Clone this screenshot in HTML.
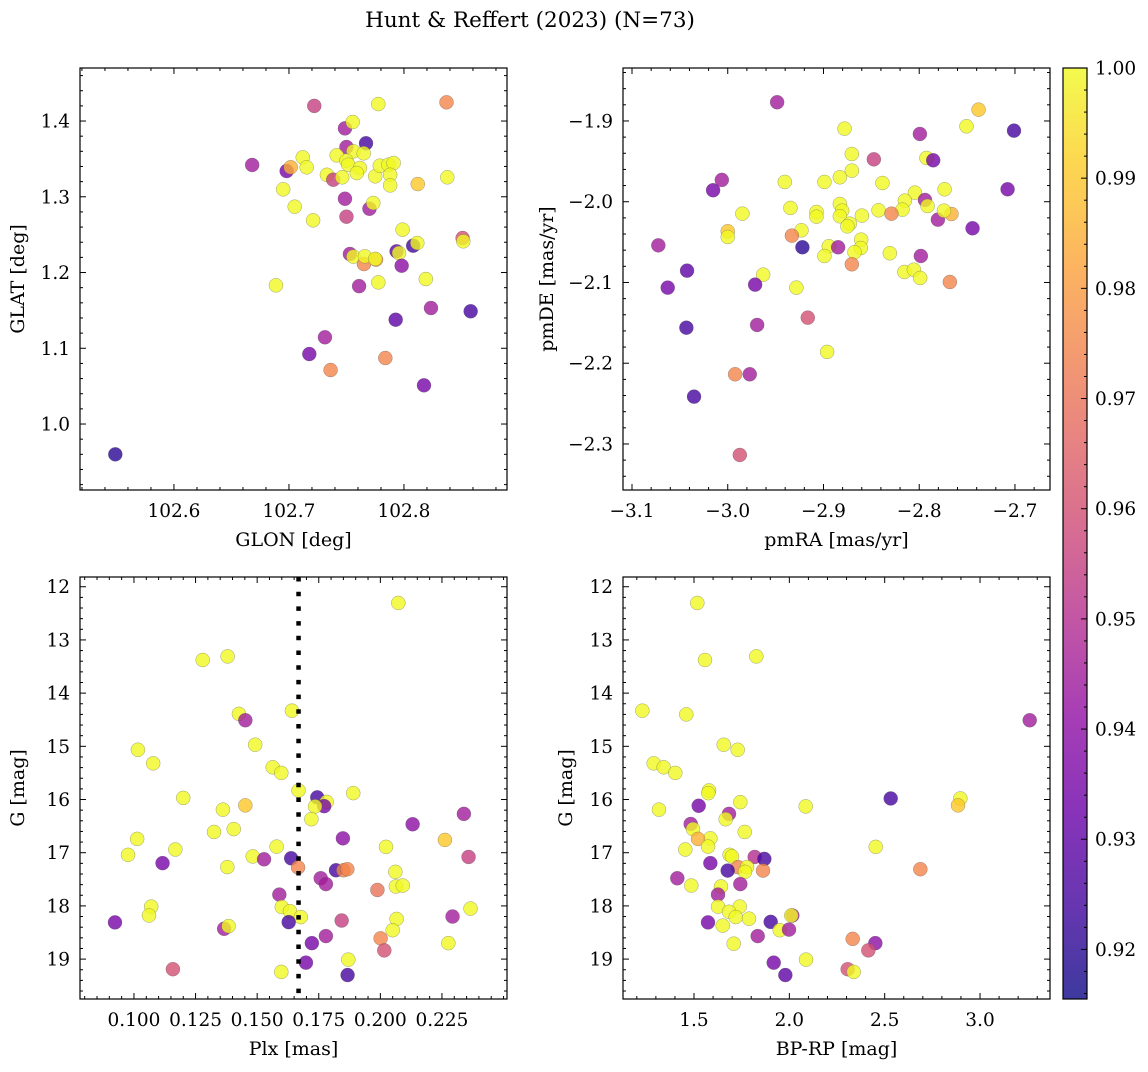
<!DOCTYPE html>
<html><head><meta charset="utf-8"><style>
body{margin:0;background:#fff}
svg text{font-family:"DejaVu Serif","Liberation Serif",serif;fill:#000}
</style></head><body>
<svg id="fig" width="1148" height="1067" xmlns="http://www.w3.org/2000/svg">
<defs><linearGradient id="cbgrad" x1="0" y1="1" x2="0" y2="0">
<stop offset="0" stop-color="#0d0887"/><stop offset="0.1" stop-color="#41049d"/><stop offset="0.2" stop-color="#6a00a8"/><stop offset="0.3" stop-color="#8f0da4"/><stop offset="0.4" stop-color="#b12a90"/><stop offset="0.5" stop-color="#cc4778"/><stop offset="0.6" stop-color="#e16462"/><stop offset="0.7" stop-color="#f2844b"/><stop offset="0.8" stop-color="#fca636"/><stop offset="0.9" stop-color="#fcce25"/><stop offset="1" stop-color="#f0f921"/>
</linearGradient></defs>
<text x="530" y="27" font-size="21.5" text-anchor="middle">Hunt &amp; Reffert (2023) (N=73)</text>
</svg>
<script>
// ---- Panel 1: GLON / GLAT ----
const p1x=[102.549,102.668,102.698,102.7015,102.722,102.7777,102.837,102.7487,102.7554,102.767,102.750,102.7415,102.756,102.765,102.750,102.7516,102.7617,102.759,102.712,102.7154,102.733,102.7385,102.7463,102.775,102.779,102.7864,102.791,102.788,102.788,102.812,102.8377,102.695,102.705,102.721,102.7487,102.770,102.7733,102.750,102.7988,102.851,102.8516,102.808,102.8116,102.7936,102.7957,102.753,102.756,102.7652,102.766,102.7757,102.775,102.798,102.7777,102.761,102.819,102.6887,102.8235,102.858,102.7928,102.7313,102.7177,102.7838,102.7362,102.8174];
const p1y=[0.960,1.342,1.334,1.339,1.420,1.4224,1.4247,1.3903,1.3987,1.3706,1.3657,1.3547,1.360,1.3574,1.3476,1.3423,1.338,1.3314,1.352,1.3389,1.329,1.3225,1.3257,1.327,1.341,1.3423,1.3446,1.329,1.315,1.3168,1.3257,1.3098,1.2869,1.2689,1.2974,1.2842,1.2918,1.2737,1.2566,1.2455,1.2412,1.2354,1.239,1.228,1.2257,1.2244,1.221,1.2112,1.2214,1.217,1.218,1.209,1.187,1.182,1.1914,1.1831,1.1531,1.1488,1.1377,1.1145,1.0924,1.0871,1.0713,1.0511];
const p1c=[0.92,0.945,0.935,0.985,0.955,1,0.975,0.945,1,0.925,0.945,1,1,1,1,1,1,1,1,1,1,0.955,1,1,1,1,1,1,1,0.99,1,1,1,1,0.945,0.945,1,0.955,1,0.96,1,0.925,1,0.93,1,0.945,1,0.975,1,0.98,1,0.94,1,0.945,1,1,0.945,0.925,0.93,0.945,0.935,0.975,0.975,0.935];
// ---- Panel 2: pmRA / pmDE ----
const p2x=[-2.9484,-2.738,-2.7506,-2.701,-2.7993,-2.878,-2.8704,-2.8474,-2.7924,-2.7854,-3.0062,-3.0153,-2.9404,-2.899,-2.8829,-2.8704,-2.8384,-2.7077,-2.7735,-2.8045,-2.815,-2.794,-2.7913,-2.9847,-2.9345,-2.9073,-2.9073,-2.8829,-2.8805,-2.8829,-2.8599,-2.8425,-2.8175,-2.829,-2.7805,-2.7663,-2.7742,-2.7443,-2.8725,-2.875,-3.0,-3.0,-2.923,-2.933,-2.922,-2.8944,-2.8847,-2.899,-2.8606,-2.861,-2.8676,-2.8704,-2.8307,-2.7983,-2.8154,-2.8056,-2.799,-2.768,-3.0725,-3.0425,-3.0627,-2.963,-2.9714,-2.9283,-2.9164,-3.0432,-2.9693,-2.8962,-2.9923,-2.977,-3.0352,-2.9874];
const p2y=[-1.8768,-1.886,-1.9066,-1.912,-1.9161,-1.9095,-1.9409,-1.9475,-1.9458,-1.9487,-1.973,-1.9858,-1.9755,-1.9755,-1.9697,-1.9615,-1.9768,-1.9846,-1.9846,-1.9888,-1.9987,-1.9978,-2.0053,-2.0148,-2.0077,-2.0127,-2.0185,-2.0028,-2.0111,-2.018,-2.0172,-2.0106,-2.0098,-2.0148,-2.0222,-2.0152,-2.0111,-2.0329,-2.0272,-2.0305,-2.0366,-2.0437,-2.0354,-2.042,-2.0564,-2.0552,-2.0564,-2.0672,-2.047,-2.0573,-2.0626,-2.0775,-2.0638,-2.0672,-2.087,-2.0842,-2.0944,-2.0994,-2.054,-2.0854,-2.1064,-2.0903,-2.1027,-2.1064,-2.1436,-2.156,-2.1526,-2.186,-2.2137,-2.2137,-2.2414,-2.3136];
const p2c=[0.945,0.99,1,0.925,0.945,1,1,0.955,1,0.935,0.945,0.935,1,1,1,1,1,0.935,1,1,1,0.945,1,1,1,1,1,1,1,1,1,1,1,0.975,0.945,0.985,1,0.935,1,1,0.99,1,1,0.975,0.92,1,0.945,1,1,1,1,0.975,1,0.945,1,1,1,0.975,0.945,0.93,0.935,1,0.935,1,0.96,0.925,0.945,1,0.975,0.945,0.925,0.96];
// ---- Panel 3: Plx / G ----
const p3x=[0.2073,0.1279,0.138,0.1641,0.1426,0.1452,0.1492,0.1016,0.1078,0.1563,0.1598,0.1668,0.189,0.1744,0.1782,0.1772,0.1735,0.172,0.12,0.1361,0.1452,0.1325,0.1405,0.2131,0.2339,0.1848,0.1013,0.1168,0.0976,0.1579,0.2023,0.2262,0.2358,0.1116,0.1379,0.1482,0.1528,0.1638,0.1666,0.182,0.185,0.1866,0.1758,0.1779,0.2061,0.2063,0.2091,0.1988,0.159,0.107,0.1061,0.0923,0.16,0.1633,0.1677,0.1628,0.1366,0.1384,0.1843,0.2066,0.205,0.2293,0.2366,0.1722,0.1779,0.2001,0.2016,0.2276,0.1698,0.187,0.1598,0.1867,0.1158];
const p3y=[12.305,13.377,13.31,14.33,14.39,14.51,14.97,15.065,15.32,15.394,15.50,15.83,15.88,15.96,16.045,16.125,16.13,16.37,15.97,16.19,16.11,16.61,16.556,16.465,16.27,16.73,16.74,16.94,17.04,16.885,16.89,16.76,17.08,17.196,17.27,17.07,17.124,17.105,17.277,17.33,17.33,17.31,17.48,17.59,17.36,17.635,17.617,17.70,17.787,18.013,18.18,18.31,18.02,18.10,18.21,18.305,18.43,18.38,18.275,18.245,18.457,18.2,18.05,18.70,18.567,18.61,18.836,18.70,19.067,19.01,19.24,19.30,19.19];
const p3c=[1,1,1,1,1,0.945,1,1,1,1,1,1,1,0.925,1,0.935,1,1,1,1,0.99,1,1,0.94,0.945,0.94,1,1,1,1,1,0.99,0.955,0.935,1,1,0.945,0.925,0.975,0.925,0.975,0.975,0.945,0.945,1,1,1,0.97,0.945,1,1,0.935,1,1,1,0.925,0.945,1,0.955,1,1,0.945,1,0.935,0.945,0.975,0.96,1,0.935,1,1,0.925,0.96];
const p3line=[0.1668];
// ---- Panel 4: BP-RP / G ----
const p4x=[1.5173,1.5577,1.8268,1.2289,1.4596,3.2606,1.6558,1.729,1.2886,1.341,1.4019,1.5787,1.575,2.5316,2.8967,2.8846,2.0858,1.3164,1.5246,1.7428,1.6836,1.6661,1.7659,1.4827,1.4948,1.5857,1.521,1.5734,1.4544,2.453,1.687,1.699,1.8183,1.8688,1.5857,1.7308,1.778,1.8619,1.6767,1.7675,2.687,1.4124,1.4858,1.7428,1.6416,1.6259,1.6259,1.7397,1.6836,1.7187,1.7885,2.0156,2.01,1.5734,1.6505,1.9022,1.9495,1.9982,1.834,1.708,2.3322,2.451,2.4143,2.0874,1.918,1.979,2.306,2.3376];
const p4y=[12.305,13.377,13.31,14.33,14.40,14.51,14.97,15.065,15.32,15.394,15.50,15.83,15.88,15.98,15.98,16.11,16.13,16.19,16.118,16.05,16.27,16.37,16.61,16.46,16.556,16.73,16.74,16.885,16.94,16.89,17.04,17.07,17.08,17.117,17.196,17.27,17.27,17.336,17.336,17.36,17.31,17.48,17.617,17.59,17.635,17.787,18.013,18.013,18.11,18.21,18.24,18.18,18.18,18.31,18.37,18.30,18.457,18.445,18.567,18.71,18.62,18.70,18.836,19.01,19.067,19.30,19.19,19.24];
const p4c=[1,1,1,1,1,0.945,1,1,1,1,1,1,1,0.925,1,0.99,1,1,0.935,1,0.945,1,1,0.945,1,1,0.985,1,1,1,1,1,0.95,0.925,0.935,0.975,1,0.975,0.925,1,0.975,0.945,1,0.945,1,0.945,1,1,1,1,1,0.945,1,0.935,1,0.925,1,0.945,0.945,1,0.975,0.94,0.96,1,0.935,0.93,0.96,1];
// ---- tick labels ----
const t1x=[102.6,102.7,102.8], t1xl=["102.6","102.7","102.8"];
const t1y=[1.0,1.1,1.2,1.3,1.4], t1yl=["1.0","1.1","1.2","1.3","1.4"];
const t2x=[-3.1,-3.0,-2.9,-2.8,-2.7], t2xl=["\u22123.1","\u22123.0","\u22122.9","\u22122.8","\u22122.7"];
const t2y=[-2.3,-2.2,-2.1,-2.0,-1.9], t2yl=["\u22122.3","\u22122.2","\u22122.1","\u22122.0","\u22121.9"];
const t3x=[0.1,0.125,0.15,0.175,0.2,0.225], t3xl=["0.100","0.125","0.150","0.175","0.200","0.225"];
const tGy=[12,13,14,15,16,17,18,19], tGyl=["12","13","14","15","16","17","18","19"];
const t4x=[1.5,2.0,2.5,3.0], t4xl=["1.5","2.0","2.5","3.0"];
const tcb=[0.92,0.93,0.94,0.95,0.96,0.97,0.98,0.99,1.00], tcbl=["0.92","0.93","0.94","0.95","0.96","0.97","0.98","0.99","1.00"];

const NS="http://www.w3.org/2000/svg";
const svg=document.getElementById('fig');
const CMIN=0.9155, CMAX=1.0;
const stops=["#0d0887","#41049d","#6a00a8","#8f0da4","#b12a90","#cc4778","#e16462","#f2844b","#fca636","#fcce25","#f0f921"];
function hex(h){return [1,3,5].map(i=>parseInt(h.substr(i,2),16));}
function cmap(v){let t=(v-CMIN)/(CMAX-CMIN);t=Math.max(0,Math.min(1,t))*10;const i=Math.min(9,Math.floor(t)),f=t-i;const a=hex(stops[i]),b=hex(stops[i+1]);return 'rgb('+a.map((c,k)=>Math.round(c+(b[k]-c)*f)).join(',')+')';}
function el(tag,attrs,parent){const e=document.createElementNS(NS,tag);for(const k in attrs)e.setAttribute(k,attrs[k]);(parent||svg).appendChild(e);return e;}
const TF=18.5, LF=19;

function panel(o){
  const g=el('g',{});
  
  
  const sx=v=>o.L+(v-o.x0)/(o.x1-o.x0)*(o.R-o.L);
  const sy=v=>o.B-(v-o.y0)/(o.y1-o.y0)*(o.B-o.T);
  const pg=el('g',{},g);
  
  
  for(let i=0;i<o.xs.length;i++){
    const c=el('circle',{cx:sx(o.xs[i]),cy:sy(o.ys[i]),r:7,fill:cmap(o.cs[i]),'fill-opacity':0.8,stroke:'#555','stroke-opacity':0.55,'stroke-width':0.5},pg);
    
    
  }
  if(o.vline){for(const v of o.vline){const ln=el('line',{x1:sx(v),x2:sx(v),y1:o.T,y2:o.B,stroke:'#000','stroke-width':4.5,'stroke-dasharray':'4.5 10.2'},g);
    
    }}
  const fr=el('rect',{x:o.L,y:o.T,width:o.R-o.L,height:o.B-o.T,fill:'none',stroke:'#000','stroke-width':1.2},g);
  
  
  const tk=el('g',{stroke:'#000','stroke-width':1},g);
  const xstep=o.xm, ystep=o.ym;
  for(let k=Math.ceil(o.x0/xstep-1e-6);k*xstep<=o.x1+1e-9;k++){const v=k*xstep;const X=sx(v);const maj=o.xt.some(t=>Math.abs(t-v)<xstep/10);const len=maj?6:3;
    el('line',{x1:X,x2:X,y1:o.B,y2:o.B-len},tk);el('line',{x1:X,x2:X,y1:o.T,y2:o.T+len},tk);}
  for(let k=Math.ceil(o.y0/ystep-1e-6);k*ystep<=o.y1+1e-9;k++){const v=k*ystep;const Y=sy(v);const maj=o.yt.some(t=>Math.abs(t-v)<ystep/10);const len=maj?6:3;
    el('line',{y1:Y,y2:Y,x1:o.L,x2:o.L+len},tk);el('line',{y1:Y,y2:Y,x1:o.R,x2:o.R-len},tk);}
  o.xt.forEach((v,i)=>{const t=el('text',{x:sx(v),y:o.B+27,'font-size':TF,'text-anchor':'middle'},g);t.textContent=o.xtl[i];
    
    });
  o.yt.forEach((v,i)=>{const t=el('text',{x:o.L-10,y:sy(v)+6.5,'font-size':TF,'text-anchor':'end'},g);t.textContent=o.ytl[i];
    
    });
  const xl=el('text',{x:(o.L+o.R)/2,y:o.B+56,'font-size':LF,'text-anchor':'middle'},g);xl.textContent=o.xlab;
  
  
  const yx=o.ylx, yy=(o.T+o.B)/2;
  const yl=el('text',{x:yx,y:yy,'font-size':LF,'text-anchor':'middle',transform:'rotate(-90 '+yx+' '+yy+')'},g);yl.textContent=o.ylab;
  
  
}
panel({name:'panel-glon-glat',L:80,R:507,T:68,B:490,x0:102.5183,x1:102.8896,y0:0.9129,y1:1.47,xm:0.02,ym:0.02,xs:p1x,ys:p1y,cs:p1c,xt:t1x,xtl:t1xl,yt:t1y,ytl:t1yl,xlab:'GLON [deg]',ylab:'GLAT [deg]',ylx:24});
panel({name:'panel-pmra-pmde',L:623,R:1050,T:68,B:490,x0:-3.1094,x1:-2.6634,y0:-2.357,y1:-1.8344,xm:0.02,ym:0.02,xs:p2x,ys:p2y,cs:p2c,xt:t2x,xtl:t2xl,yt:t2y,ytl:t2yl,xlab:'pmRA [mas/yr]',ylab:'pmDE [mas/yr]',ylx:553});
panel({name:'panel-plx-g',L:80,R:507,T:577,B:999,x0:0.0781,x1:0.2514,y0:-19.75,y1:-11.817,xm:0.005,ym:0.2,xs:p3x,ys:p3y.map(v=>-v),cs:p3c,xt:t3x,xtl:t3xl,yt:tGy.map(v=>-v),ytl:tGyl,xlab:'Plx [mas]',ylab:'G [mag]',ylx:24,vline:p3line});
panel({name:'panel-bprp-g',L:623,R:1050,T:577,B:999,x0:1.1276,x1:3.367,y0:-19.75,y1:-11.817,xm:0.1,ym:0.2,xs:p4x,ys:p4y.map(v=>-v),cs:p4c,xt:t4x,xtl:t4xl,yt:tGy.map(v=>-v),ytl:tGyl,xlab:'BP-RP [mag]',ylab:'G [mag]',ylx:572});

const cb=el('g',{});


const CT=68,CB=999,CL=1063,CR=1087;
el('rect',{x:CL,y:CT,width:CR-CL,height:CB-CT,fill:'url(#cbgrad)','fill-opacity':0.8},cb);
el('rect',{x:CL,y:CT,width:CR-CL,height:CB-CT,fill:'none',stroke:'#000','stroke-width':1.2},cb);
const cy=v=>CB-(v-CMIN)/(CMAX-CMIN)*(CB-CT);
for(let k=Math.ceil(CMIN/0.002);k*0.002<=CMAX+1e-9;k++){const v=k*0.002;const Y=cy(v);const maj=tcb.some(t=>Math.abs(t-v)<0.0005);
  el('line',{x1:CR,x2:CR-(maj?6:3),y1:Y,y2:Y,stroke:'#000','stroke-width':1},cb);}
tcb.forEach((v,i)=>{const t=el('text',{x:CR+8,y:cy(v)+6.5,'font-size':TF},cb);t.textContent=tcbl[i];
  
  });
</script>
</body></html>
